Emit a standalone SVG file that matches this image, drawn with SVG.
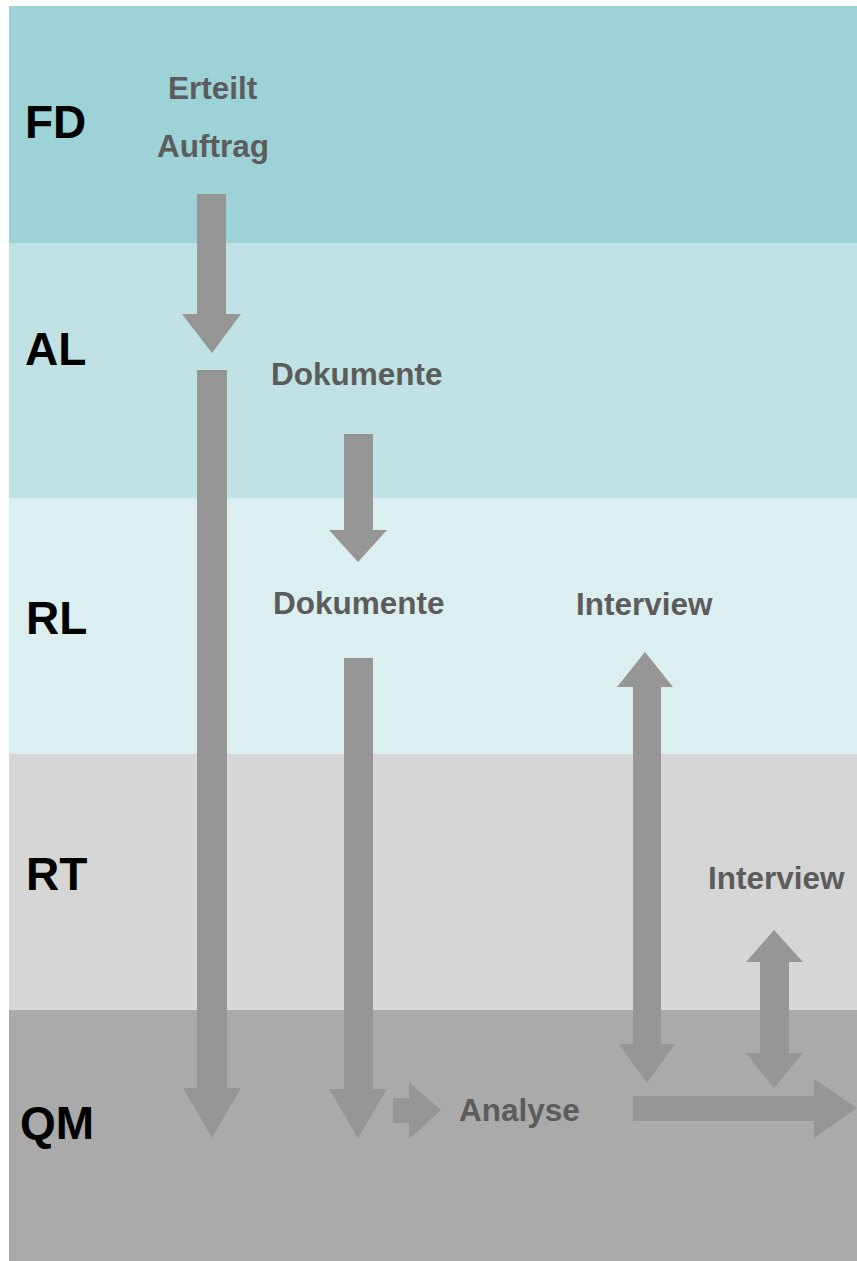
<svg xmlns="http://www.w3.org/2000/svg" width="857" height="1261" viewBox="0 0 857 1261">
<style>
.lane{font-family:"Liberation Sans",Arial,sans-serif;font-weight:bold;font-size:46px;fill:#000}
.lbl{font-family:"Liberation Sans",Arial,sans-serif;font-weight:bold;font-size:31.5px;fill:#5c5c5c}
.arr{fill:#969696}
</style>
<rect width="857" height="1261" fill="#fff"/>
<g id="lanes">
<g id="lane-FD"><rect x="9" y="6" width="848" height="237" fill="#9dd3d6"/><text class="lane" x="25" y="138">FD</text></g>
<g id="lane-AL"><rect x="9" y="243" width="848" height="255" fill="#c0e2e4"/><text class="lane" x="25" y="365">AL</text></g>
<g id="lane-RL"><rect x="9" y="498" width="848" height="256" fill="#dbeff0"/><text class="lane" x="26" y="634">RL</text></g>
<g id="lane-RT"><rect x="9" y="754" width="848" height="256" fill="#d6d6d6"/><text class="lane" x="26" y="890">RT</text></g>
<g id="lane-QM"><rect x="9" y="1010" width="848" height="251" fill="#aaaaaa"/><text class="lane" x="20" y="1139">QM</text></g>
</g>
<g id="node-auftrag"><text class="lbl" x="168" y="99">Erteilt</text><text class="lbl" x="157" y="157">Auftrag</text></g>
<g id="node-dok1"><text class="lbl" x="271" y="385">Dokumente</text></g>
<g id="node-dok2"><text class="lbl" x="273" y="614">Dokumente</text></g>
<g id="node-interview1"><text class="lbl" x="576" y="615">Interview</text></g>
<g id="node-interview2"><text class="lbl" x="708" y="889">Interview</text></g>
<g id="node-analyse"><text class="lbl" x="459" y="1121">Analyse</text></g>
<g id="connectors" class="arr">
<polygon points="197,194 226,194 226,314 241,314 212,353 182,314 197,314"/>
<polygon points="197,370 227,370 227,1088 241,1088 212,1138 183,1088 197,1088"/>
<polygon points="344,434 373,434 373,530 387,530 358,562 329,530 344,530"/>
<polygon points="344,658 373,658 373,1089 387,1089 358,1138 329,1089 344,1089"/>
<polygon points="393,1098 409,1098 409,1082 441,1110 409,1139 409,1123 393,1123"/>
<polygon points="633,1096 814,1096 814,1079 857,1108 814,1138 814,1121 633,1121"/>
<polygon points="645,652 673,687 661,687 661,1044 675,1044 647,1083 619,1044 633,1044 633,687 617,687"/>
<polygon points="774,930 803,962 789,962 789,1053 803,1053 774,1088 746,1053 760,1053 760,962 746,962"/>
</g>
</svg>
